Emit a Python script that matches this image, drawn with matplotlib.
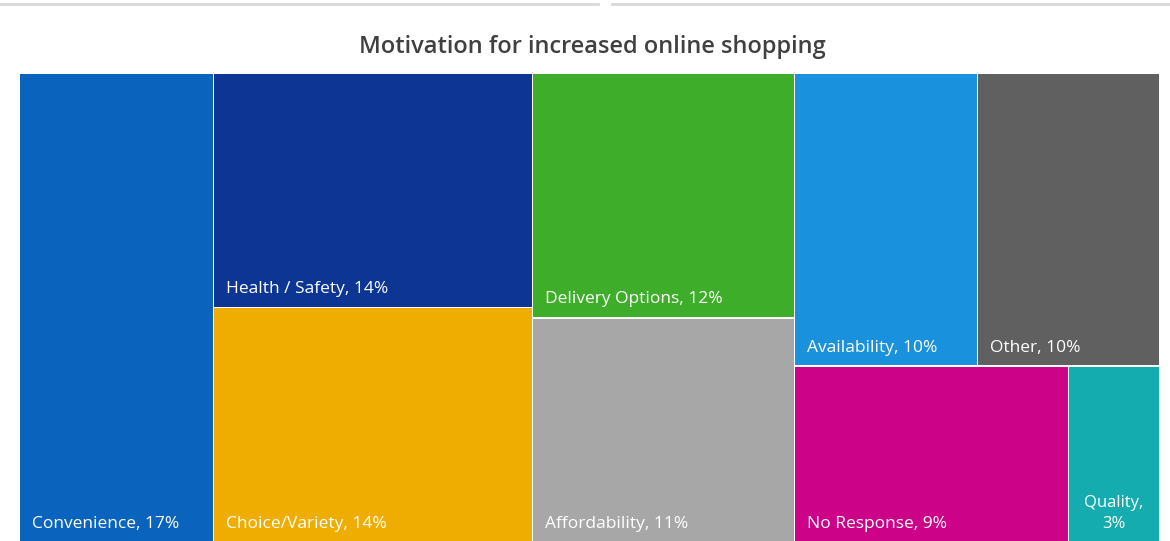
import matplotlib
matplotlib.use("Agg")
import matplotlib.pyplot as plt
from matplotlib.patches import Rectangle
from matplotlib.lines import Line2D

# data (percent share)
labels = ["Convenience", "Health / Safety", "Choice/Variety", "Delivery Options",
          "Affordability", "Availability", "Other", "No Response", "Quality"]
values = [17, 14, 14, 12, 11, 10, 10, 9, 3]
colors = ["#0A64BE", "#0C3594", "#EEAD00", "#3EAE2A", "#A7A7A7",
          "#1991DC", "#606060", "#CC0288", "#14ACAE"]

# treemap structure as Excel draws it: columns of stacked tiles, last column split in two rows
columns = [[0], [1, 2], [3, 4]]
last_rows = [[5, 6], [7, 8]]

plt.rcParams['font.family'] = ['Open Sans', 'DejaVu Sans']

fig = plt.figure(figsize=(11.7, 5.41), dpi=100)
ax = fig.add_axes([20 / 1170, 0, 1140 / 1170, 469 / 541])
total = float(sum(values))
ax.set_xlim(0, total)
ax.set_ylim(0, 1)
ax.axis("off")

gap_x = 0.09
gap_y = 0.004
tiles = {}

x0 = 0.0
for col in columns:
    w = sum(values[i] for i in col)
    y_top = 1.0
    for i in col:
        h = values[i] / w
        tiles[i] = (x0, y_top - h, w, h)
        y_top -= h
    x0 += w

w_last = total - x0
y_top = 1.0
for row in last_rows:
    s = sum(values[i] for i in row)
    h = s / w_last
    xx = x0
    for i in row:
        ww = values[i] / s * w_last
        tiles[i] = (xx, y_top - h, ww, h)
        xx += ww
    y_top -= h

for i, (x, y, w, h) in tiles.items():
    ax.add_patch(Rectangle((x, y), w - gap_x, h - gap_y, facecolor=colors[i],
                           edgecolor="none"))
    if labels[i] == "Quality":
        ax.text(x + w / 2 - 0.05, y + 0.02, labels[i] + ",\n" + str(values[i]) + "%",
                color="white", fontsize=12, ha="center", va="bottom",
                linespacing=1.4)
    else:
        ax.text(x + 1.05, y + 0.02, labels[i] + ", " + str(values[i]) + "%",
                color="white", fontsize=12.5, ha="left", va="bottom")

fig.text(592 / 1170, 1 - 47 / 541, "Motivation for increased online shopping",
         ha="center", va="center", fontsize=17, color="#404040", fontweight="semibold")

# faint frame edges of the neighbouring panels at the top
fig.add_artist(Line2D([0, 598 / 1170], [1 - 4 / 541, 1 - 4 / 541], color="#d8d8d8", lw=2))
fig.add_artist(Line2D([612 / 1170, 1], [1 - 4 / 541, 1 - 4 / 541], color="#d8d8d8", lw=2))

fig.savefig("out.png", dpi=100)
